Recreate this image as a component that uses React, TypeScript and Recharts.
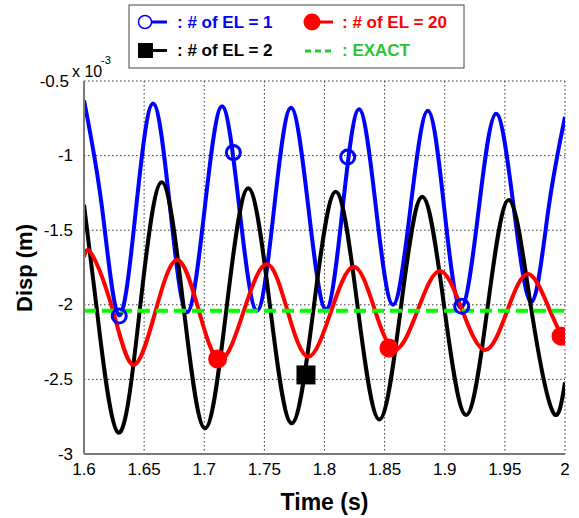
import React from 'react';
import {
  ComposedChart,
  Line,
  Scatter,
  XAxis,
  YAxis,
  CartesianGrid,
  Customized,
} from 'recharts';

// ---- Data (displacement in units of 1e-3 m) ----
const xTicks = [1.6, 1.65, 1.7, 1.75, 1.8, 1.85, 1.9, 1.95, 2];
const yTicks = [-3, -2.5, -2, -1.5, -1, -0.5];

// # of EL = 1 (blue)
const el1Curve: [number, number][] = [
  [1.6, -0.63], [1.615, -1.35], [1.6291, -2.07], [1.6432, -1.36], [1.6574, -0.65],
  [1.6716, -1.35], [1.6857, -2.05], [1.7003, -1.36], [1.7148, -0.67], [1.7293, -1.36],
  [1.7439, -2.04], [1.758, -1.36], [1.7721, -0.68], [1.7866, -1.35], [1.8012, -2.03],
  [1.815, -1.36], [1.8287, -0.69], [1.8428, -1.35], [1.857, -2.0], [1.8715, -1.35],
  [1.8861, -0.7], [1.8998, -1.37], [1.9135, -2.02], [1.9281, -1.37], [1.9426, -0.72],
  [1.9574, -1.35], [1.9723, -1.98], [1.9862, -1.36], [2.0, -0.74],
];
const el1Markers: [number, number][] = [
  [1.6293, -2.075], [1.7242, -0.98], [1.8193, -1.01], [1.9141, -2.01],
];

// # of EL = 2 (black)
const el2Curve: [number, number][] = [
  [1.6, -1.33], [1.6105, -2.02], [1.6285, -2.857], [1.6466, -2.02], [1.6646, -1.179],
  [1.6826, -2.0], [1.7006, -2.828], [1.7186, -2.02], [1.7366, -1.219], [1.7547, -2.01],
  [1.7727, -2.794], [1.791, -2.02], [1.8093, -1.242], [1.8275, -2.01], [1.8456, -2.768],
  [1.8635, -2.02], [1.8813, -1.275], [1.8995, -2.01], [1.9177, -2.739], [1.9356, -2.02],
  [1.9534, -1.298], [1.9716, -2.01], [1.9898, -2.716], [2.0, -2.52],
];
const el2Markers: [number, number][] = [[1.7846, -2.47]];

// # of EL = 20 (red)
const el20Curve: [number, number][] = [
  [1.6, -1.68], [1.6064, -1.66], [1.6237, -2.03], [1.641, -2.403], [1.6592, -2.05],
  [1.6773, -1.7], [1.6952, -2.03], [1.7131, -2.37], [1.7325, -2.05], [1.7519, -1.727],
  [1.7692, -2.04], [1.7865, -2.348], [1.8052, -2.05], [1.824, -1.745], [1.8413, -2.02],
  [1.8586, -2.3], [1.8773, -2.04], [1.896, -1.773], [1.9147, -2.04], [1.9335, -2.303],
  [1.9515, -2.05], [1.9695, -1.794], [1.9875, -2.04], [2.0, -2.25],
];
const el20Markers: [number, number][] = [
  [1.7111, -2.363], [1.8536, -2.29], [1.9967, -2.21],
];

// EXACT (green dashed)
const exactCurve: [number, number][] = [[1.6, -2.04], [2.0, -2.04]];

const toRows = (pts: [number, number][]) => pts.map(([t, v]) => ({ t, v }));

const FONT = '"Liberation Sans", Arial, sans-serif';
const FRAME = { stroke: '#7a7a7a', strokeWidth: 2 };

const BlueCircle = (p: any) => (
  <circle cx={p.cx} cy={p.cy} r={7} fill="none" stroke="#0000ff" strokeWidth={3} />
);
const RedDot = (p: any) => <circle cx={p.cx} cy={p.cy} r={9.5} fill="#ff0000" />;
const BlackSquare = (p: any) => (
  <rect x={p.cx - 9.5} y={p.cy - 9.5} width={19} height={19} fill="#000000" />
);

const YTick = (p: any) => {
  const v = p.payload.value;
  const shift = v === -0.5 ? -4 : 0;
  return (
    <text
      x={p.x + shift}
      y={p.y}
      textAnchor="end"
      dominantBaseline="central"
      fontSize={17}
      fontFamily={FONT}
      fill="#000"
    >
      {String(v)}
    </text>
  );
};

const Annotations = () => (
  <g fontFamily={FONT}>
    {/* x 10^-3 */}
    <text x={72} y={77} fontSize={16} fill="#000">x 10</text>
    <text x={101} y={64} fontSize={11} fill="#000">-3</text>
    {/* axis titles */}
    <text x={324.5} y={510} textAnchor="middle" fontSize={23} fontWeight="bold" fill="#000">
      Time (s)
    </text>
    <text
      x={0}
      y={0}
      transform="translate(32,268) rotate(-90)"
      textAnchor="middle"
      fontSize={22}
      fontWeight="bold"
      fill="#000"
    >
      Disp (m)
    </text>
    {/* legend */}
    <rect x={129} y={5} width={335} height={63} fill="#fff" stroke="#444" strokeWidth={1} />
    <line x1={152} y1={22} x2={167} y2={22} stroke="#0000ff" strokeWidth={3} />
    <circle cx={145} cy={22} r={6.5} fill="#fff" stroke="#0000ff" strokeWidth={1.5} />
    <text x={177} y={22} dominantBaseline="central" fontSize={17} fontWeight="bold" fill="#0000ff">
      : # of EL = 1
    </text>
    <line x1={318} y1={22} x2={333} y2={22} stroke="#ff0000" strokeWidth={3} />
    <circle cx={312} cy={22} r={8.5} fill="#ff0000" />
    <text x={342} y={22} dominantBaseline="central" fontSize={17} fontWeight="bold" fill="#ff0000">
      : # of EL = 20
    </text>
    <line x1={152} y1={50.5} x2={167} y2={50.5} stroke="#000" strokeWidth={3} />
    <rect x={138} y={43} width={15} height={15} fill="#000" />
    <text x={177} y={50} dominantBaseline="central" fontSize={17} fontWeight="bold" fill="#000">
      : # of EL = 2
    </text>
    <line x1={305} y1={51} x2={334} y2={51} stroke="#2fc42f" strokeWidth={3} strokeDasharray="6 4" />
    <text x={342} y={50} dominantBaseline="central" fontSize={17} fontWeight="bold" fill="#2fc42f">
      : EXACT
    </text>
  </g>
);

export default function App() {
  return (
    <div style={{ position: 'absolute', left: 0, top: 0, width: 579, height: 518, background: '#fff' }}>
      <ComposedChart width={579} height={518} margin={{ top: 81, right: 14, bottom: 34, left: 0 }}>
        <CartesianGrid
          stroke="#333"
          strokeDasharray="1.5 2.5"
          strokeWidth={1}
          xAxisId="bottom"
          yAxisId="left"
        />
        <XAxis
          xAxisId="bottom"
          dataKey="t"
          type="number"
          domain={[1.6, 2]}
          ticks={xTicks}
          allowDataOverflow
          height={30}
          tickFormatter={(v: number) => String(v)}
          tickLine={false}
          axisLine={FRAME}
          tickSize={6}
          tickMargin={3}
          tick={{ fontSize: 17, fill: '#000', fontFamily: FONT }}
        />
        <XAxis
          xAxisId="top"
          orientation="top"
          dataKey="t"
          type="number"
          domain={[1.6, 2]}
          ticks={xTicks}
          allowDataOverflow
          height={0}
          tick={false}
          tickLine={false}
          axisLine={FRAME}
        />
        <YAxis
          yAxisId="left"
          type="number"
          domain={[-3, -0.5]}
          ticks={yTicks}
          allowDataOverflow
          width={84}
          tickLine={false}
          axisLine={FRAME}
          tickSize={6}
          tickMargin={5}
          tick={YTick}
        />
        <YAxis
          yAxisId="right"
          orientation="right"
          type="number"
          domain={[-3, -0.5]}
          ticks={yTicks}
          allowDataOverflow
          width={0}
          tick={false}
          tickLine={false}
          axisLine={FRAME}
        />
        <Line
          xAxisId="bottom"
          yAxisId="left"
          data={toRows(el1Curve)}
          dataKey="v"
          type="natural"
          stroke="#0000ff"
          strokeWidth={4}
          dot={false}
          activeDot={false}
          isAnimationActive={false}
        />
        <Scatter
          xAxisId="bottom"
          yAxisId="left"
          data={toRows(el1Markers)}
          dataKey="v"
          shape={BlueCircle}
          isAnimationActive={false}
        />
        <Line
          xAxisId="bottom"
          yAxisId="left"
          data={toRows(el2Curve)}
          dataKey="v"
          type="natural"
          stroke="#000000"
          strokeWidth={4}
          dot={false}
          activeDot={false}
          isAnimationActive={false}
        />
        <Scatter
          xAxisId="bottom"
          yAxisId="left"
          data={toRows(el2Markers)}
          dataKey="v"
          shape={BlackSquare}
          isAnimationActive={false}
        />
        <Line
          xAxisId="bottom"
          yAxisId="left"
          data={toRows(el20Curve)}
          dataKey="v"
          type="natural"
          stroke="#ff0000"
          strokeWidth={4}
          dot={false}
          activeDot={false}
          isAnimationActive={false}
        />
        <Scatter
          xAxisId="bottom"
          yAxisId="left"
          data={toRows(el20Markers)}
          dataKey="v"
          shape={RedDot}
          isAnimationActive={false}
        />
        <Line
          xAxisId="bottom"
          yAxisId="left"
          data={toRows(exactCurve)}
          dataKey="v"
          type="linear"
          stroke="#00ff00"
          strokeWidth={4}
          strokeDasharray="12 6"
          dot={false}
          activeDot={false}
          isAnimationActive={false}
        />
        <Customized component={Annotations} />
      </ComposedChart>
    </div>
  );
}
